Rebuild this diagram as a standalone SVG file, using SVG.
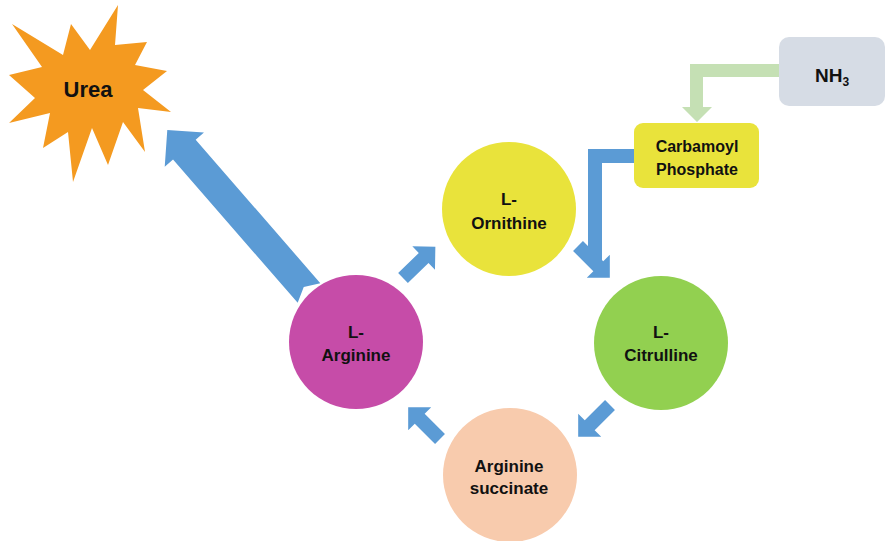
<svg xmlns="http://www.w3.org/2000/svg" width="886" height="541" viewBox="0 0 886 541">
  <style>
    .lbl { font-family: "Liberation Sans", Arial, sans-serif; font-weight: bold; fill: #111; text-anchor: middle; }
    .node { font-size: 17px; }
    .box { font-size: 16px; }
    .flow { fill: #5b9bd5; }
  </style>
  <defs>
    <!-- short block arrow pointing along +x, tail at origin -->
    <path id="step" d="M0,-7 L28.7,-7 L28.7,-16.3 L45,0 L28.7,16.3 L28.7,7 L0,7 Z"/>
  </defs>
  <rect width="886" height="541" fill="#ffffff"/>

  <g id="connectors">
    <!-- L-Arginine to Urea -->
    <path class="flow" transform="translate(309,293) rotate(229)" d="M0,-15 L190,-15 L190,-26 L216,0 L190,26 L190,15 L0,15 L8,0 Z"/>
    <!-- NH3 to Carbamoyl Phosphate -->
    <path fill="#c5e0b4" d="M779,64 L779,77 L703,77 L703,107 L712,107 L697,122 L682,107 L690,107 L690,64 Z"/>
    <!-- Carbamoyl Phosphate into the cycle -->
    <path class="flow" d="M635,149 L635,163 L602,163 L602,263 L588,263 L588,149 Z"/>
    <!-- cycle steps -->
    <use href="#step" class="flow" transform="translate(403,278) rotate(-44)"/>
    <use href="#step" class="flow" transform="translate(578,246) rotate(45)"/>
    <use href="#step" class="flow" transform="translate(610,405) rotate(135)"/>
    <use href="#step" class="flow" transform="translate(440,439) rotate(-135)"/>
  </g>

  <g id="urea">
    <polygon fill="#f49a20" points="12,24 63,55 71,24 90,50 118,5 115,45 147,42 135,65 167,71 143,90 171,112 138,108 145,152 123,122 108,165 92,128 73,182 68,132 43,148 50,113 9,123 35,98 9,75 42,67"/>
    <text class="lbl" x="88" y="97" font-size="22">Urea</text>
  </g>

  <g id="nh3">
    <rect x="779" y="37" width="106" height="69" rx="10" fill="#d6dce5"/>
    <text class="lbl" x="832" y="82" font-size="19">NH<tspan font-size="12" dy="4">3</tspan></text>
  </g>

  <g id="carbamoyl-phosphate">
    <rect x="634" y="123" width="125" height="65" rx="9" fill="#e9e33b"/>
    <text class="lbl box" x="697" y="152">Carbamoyl</text>
    <text class="lbl box" x="697" y="175">Phosphate</text>
  </g>

  <g id="l-ornithine">
    <circle cx="509" cy="209" r="67" fill="#e9e33b"/>
    <text class="lbl node" x="509" y="205">L-</text>
    <text class="lbl node" x="509" y="229">Ornithine</text>
  </g>

  <g id="l-citrulline">
    <circle cx="661" cy="343" r="67" fill="#92d050"/>
    <text class="lbl node" x="661" y="338">L-</text>
    <text class="lbl node" x="661" y="361">Citrulline</text>
  </g>

  <g id="arginine-succinate">
    <circle cx="510" cy="475" r="67" fill="#f8cbad"/>
    <text class="lbl node" x="509" y="472">Arginine</text>
    <text class="lbl node" x="509" y="494">succinate</text>
  </g>

  <g id="l-arginine">
    <circle cx="356" cy="342" r="67" fill="#c64ca8"/>
    <text class="lbl node" x="356" y="338">L-</text>
    <text class="lbl node" x="356" y="361">Arginine</text>
  </g>
</svg>
